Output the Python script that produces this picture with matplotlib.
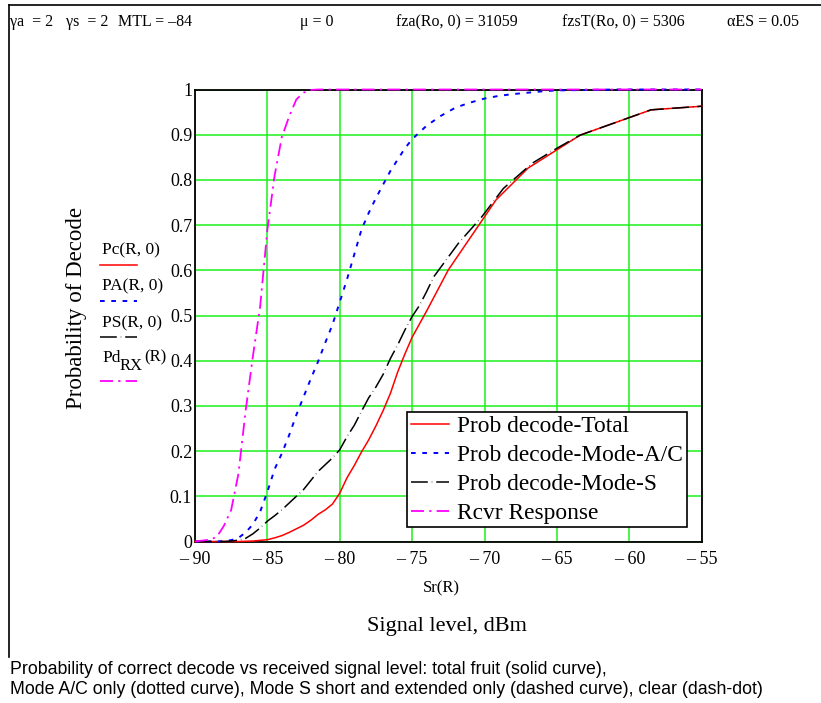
import matplotlib
matplotlib.use('Agg')
import matplotlib.pyplot as plt
from matplotlib.lines import Line2D

plt.rcParams['font.family'] = ['Liberation Serif', 'DejaVu Serif']

# signal level (dBm) and decode probabilities per curve
sr_total = [-90, -87, -86, -85, -84.5, -84, -83.5, -83, -82.5, -82, -81.5, -81, -80.5,
            -80, -79.5, -79, -78.5, -78, -77.5, -77, -76.5, -76, -75.5, -75, -74,
            -72.5, -69.2, -67, -63.4, -58.5, -55]
p_total = [0, 0, 0.001, 0.004, 0.008, 0.013, 0.02, 0.028, 0.036, 0.047, 0.06, 0.07, 0.083,
           0.107, 0.141, 0.168, 0.198, 0.225, 0.256, 0.29, 0.328, 0.375, 0.415, 0.452, 0.51,
           0.601, 0.756, 0.826, 0.899, 0.955, 0.963]

sr_modeac = [-90, -88.5, -88, -87.5, -87, -86.5, -86, -85.5, -85, -84.5, -84, -83.5, -83,
             -82.5, -82, -81.5, -81, -80.5, -80, -79.5, -79, -78.5, -78, -77.5, -77, -76.5,
             -76, -75.5, -75, -74, -73, -72, -71, -70, -69, -68, -67, -66, -65, -63, -61, -55]
p_modeac = [0, 0, 0.001, 0.003, 0.008, 0.02, 0.038, 0.066, 0.11, 0.16, 0.195, 0.235, 0.28,
            0.32, 0.36, 0.398, 0.44, 0.48, 0.53, 0.58, 0.635, 0.69, 0.727, 0.76, 0.79, 0.82,
            0.845, 0.87, 0.89, 0.92, 0.942, 0.96, 0.971, 0.98, 0.986, 0.99, 0.993, 0.996,
            0.998, 0.999, 1.0, 1.0]

sr_modes = [-90, -88, -87.5, -87, -86.5, -86, -85.5, -85, -84.5, -84, -83.5, -83, -82.5,
            -82, -81.5, -81, -80.5, -80, -79.5, -79, -78.5, -78, -77.5, -77, -76.5, -76,
            -75.5, -75, -74.5, -74, -73.5, -71.8, -70.2, -68.7, -66.7, -65, -63.4, -58.5, -55]
p_modes = [0, 0, 0.001, 0.003, 0.007, 0.017, 0.03, 0.045, 0.057, 0.07, 0.085, 0.1, 0.115,
           0.135, 0.155, 0.17, 0.185, 0.203, 0.232, 0.257, 0.288, 0.318, 0.342, 0.37, 0.405,
           0.435, 0.468, 0.498, 0.522, 0.553, 0.586, 0.66, 0.718, 0.781, 0.837, 0.87, 0.899,
           0.955, 0.963]

sr_rcvr = [-90, -89.5, -89, -88.5, -88, -87.5, -87, -86.5, -86, -85.5, -85, -84.5, -84,
           -83.5, -83, -82.5, -82, -81.5, -55]
p_rcvr = [0, 0.002, 0.004, 0.01, 0.035, 0.07, 0.15, 0.29, 0.41, 0.52, 0.69, 0.81, 0.895,
          0.94, 0.978, 0.993, 0.999, 1.0, 1.0]

x_ticks = [-90, -85, -80, -75, -70, -65, -60, -55]
y_ticks = [0, 0.1, 0.2, 0.3, 0.4, 0.5, 0.6, 0.7, 0.8, 0.9, 1]

header = [(10, 'γa  = 2'), (66, 'γs  = 2'), (118, 'MTL = –84'), (300, 'μ = 0'),
          (396, 'fza(Ro, 0) = 31059'), (562, 'fzsT(Ro, 0) = 5306'), (727, 'αES = 0.05')]

caption = ['Probability of correct decode vs received signal level: total fruit (solid curve),',
           'Mode A/C only (dotted curve), Mode S short and extended only (dashed curve), '
           'clear (dash-dot)']

W, H = 821, 703


def fx(px):
    return px / W


def fy(py):
    return 1 - py / H


styles = {
    'total': dict(color='#ff0000', lw=1.1, linestyle='-'),
    'modeac': dict(color='#0000ff', lw=1.4, dashes=(2.4, 3.4)),
    'modes': dict(color='#000000', lw=1.1, dashes=(11, 2.6, 0.3, 2.6)),
    'rcvr': dict(color='#ff00ff', lw=1.3, dashes=(7.2, 2.9, 1.2, 2.9)),
}

fig = plt.figure(figsize=(W / 100, H / 100), dpi=100)
ax = fig.add_axes([fx(195), fy(541.5), fx(701.7) - fx(195), fy(89.5) - fy(541.5)])

ax.plot(sr_total, p_total, label='Prob decode-Total', zorder=3, clip_on=False,
        **styles['total'])
ax.plot(sr_modeac, p_modeac, label='Prob decode-Mode-A/C', zorder=3, clip_on=False,
        **styles['modeac'])
ax.plot(sr_modes, p_modes, label='Prob decode-Mode-S', zorder=3, clip_on=False,
        **styles['modes'])
ax.plot(sr_rcvr, p_rcvr, label='Rcvr Response', zorder=3, clip_on=False,
        **styles['rcvr'])

ax.set_xlim(-90, -55)
ax.set_ylim(0, 1)
ax.set_xticks(x_ticks)
ax.set_xticklabels(['– %d' % abs(v) for v in x_ticks])
ax.set_yticks(y_ticks)
ax.set_yticklabels(['%g' % v for v in y_ticks])
ax.tick_params(length=0, labelsize=13)
ax.tick_params(axis='x', pad=7)
ax.tick_params(axis='y', pad=2)
ax.grid(True, color='#1df01d', lw=1.1)
ax.set_axisbelow(True)
for sp in ax.spines.values():
    sp.set_color('black')
    sp.set_linewidth(1.3)

leg = ax.legend(loc='upper left', bbox_to_anchor=(fx(407), fy(412)),
                bbox_transform=fig.transFigure, fontsize=16.8, frameon=True,
                fancybox=False, framealpha=1, edgecolor='black', borderpad=0.15,
                labelspacing=0.33, handlelength=1.65, handletextpad=0.35,
                borderaxespad=0)
leg.get_frame().set_linewidth(1.2)
leg.set_zorder(5)

# function labels on the left of the axis
fn_labels = [(250, 265, 'Pc(R, 0)', 'total'),
             (286, 301, 'PA(R, 0)', 'modeac'),
             (323, 337, 'PS(R, 0)', 'modes')]
for ty, ly, txt, key in fn_labels:
    fig.text(fx(102), fy(ty), txt, fontsize=12.5, va='center', ha='left')
    fig.add_artist(Line2D([fx(100), fx(137)], [fy(ly), fy(ly)], transform=fig.transFigure,
                          **styles[key]))
fig.text(fx(102), fy(358), 'Pd', fontsize=12.5, va='center', ha='left')
fig.text(fx(120), fy(366), 'RX', fontsize=12, va='center', ha='left')
fig.text(fx(144), fy(357), '(R)', fontsize=12, va='center', ha='left')
fig.add_artist(Line2D([fx(100), fx(137)], [fy(381), fy(381)], transform=fig.transFigure,
                      **styles['rcvr']))

fig.text(fx(76), fy(308), 'Probability of Decode', rotation=90, fontsize=16.5,
         ha='center', va='center')
fig.text(fx(441), fy(588), 'Sr(R)', fontsize=12, ha='center', va='center')
fig.text(fx(447), fy(626), 'Signal level, dBm', fontsize=16, ha='center', va='center')

for px, txt in header:
    fig.text(fx(px), fy(22), txt, fontsize=11.5, ha='left', va='center')

# region border
fig.add_artist(Line2D([fx(9), fx(9)], [fy(5), fy(657)], transform=fig.transFigure,
                      color='black', lw=1.2))
fig.add_artist(Line2D([fx(9), fx(821)], [fy(5), fy(5)], transform=fig.transFigure,
                      color='black', lw=1.2))

for py, line in zip([670, 689], caption):
    fig.text(fx(10), fy(py), line, family='Liberation Sans', fontsize=12.8, ha='left',
             va='center')

fig.savefig('out.png', dpi=100)
